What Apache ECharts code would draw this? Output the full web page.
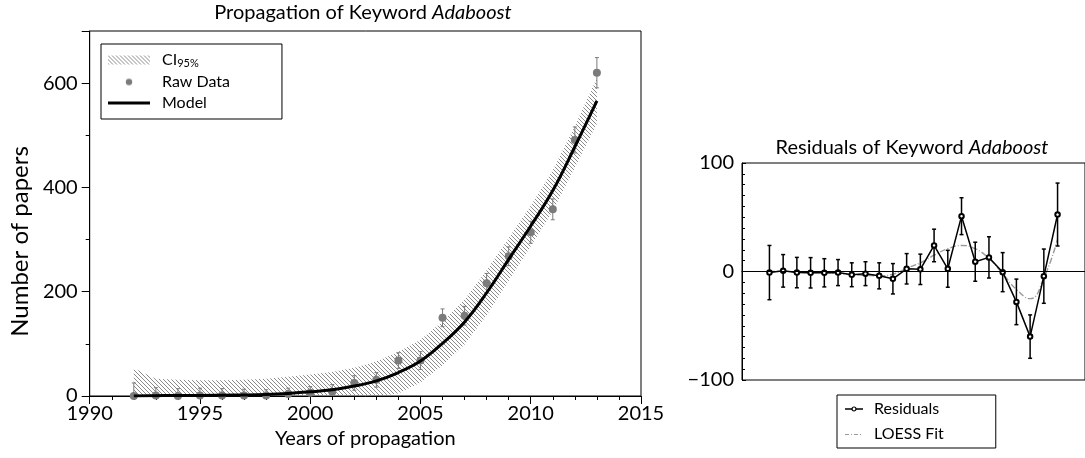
<!DOCTYPE html>
<html>
<head>
<meta charset="utf-8">
<script src="https://cdn.jsdelivr.net/npm/echarts@6/dist/echarts.min.js"></script>
<style>
  html, body { margin: 0; padding: 0; background: #fff; }
  #main { width: 1085px; height: 458px; }
</style>
</head>
<body>
<div id="main"></div>
<script>
//----------------------Data----------------------
let years = [1992, 1993, 1994, 1995, 1996, 1997, 1998, 1999, 2000, 2001, 2002,
             2003, 2004, 2005, 2006, 2007, 2008, 2009, 2010, 2011, 2012, 2013];
let raw_data = [0, 1, 0, 1, 1, 1, 1, 4, 6, 8, 25, 31, 68, 68, 150, 154, 216, 268, 314, 358, 491, 620];
let raw_err = [25, 15, 14, 14, 13, 12, 11, 11, 12, 14, 14, 14, 15, 17, 17, 18, 19, 18, 21, 20, 25, 29];
let model_fit = [0, 0.5, 1, 1, 1.5, 2, 3, 5, 8, 12, 19, 29, 45, 67, 101, 142, 198, 262, 326, 394, 478, 566];
let ci_lower = [0, 0, 0, 0, 0, 0, 0, 0, 0, 0, 0, 0, 5, 26, 59, 99, 155, 221, 287, 355, 438, 522];
let ci_upper = [53, 33, 31, 30, 30, 31, 33, 37, 41, 46, 54, 66, 85, 108, 143, 185, 241, 303, 365, 433, 518, 610];
let residuals = [-1, 0.6, -1, -1.2, -1.2, -1, -3, -2, -4, -6.7, 2.5, 2, 24, 2.5, 51, 9, 13, -0.6, -28, -60, -4.3, 52.5];
let loess_fit = [0, 0, -0.5, -1, -1, -2, -3, -3.5, -4, -2.5, 3, 8, 15, 21, 24, 21, 12, -2, -16.5, -25, -6, 30];

//--------------------Style--------------------
let font_family = "Lato, 'Open Sans', sans-serif";
let gray_raw = "#7b7b7b";

function hatch_pattern() {
    let c = document.createElement("canvas");
    c.width = 4;
    c.height = 4;
    let g = c.getContext("2d");
    g.strokeStyle = "#8a8a8a";
    g.lineWidth = 1;
    g.beginPath();
    g.moveTo(-1, -1); g.lineTo(5, 5);
    g.moveTo(-1, 3); g.lineTo(1, 5);
    g.moveTo(3, -1); g.lineTo(5, 1);
    g.stroke();
    return {image: c, repeat: "repeat"};
}
let hatch = hatch_pattern();

// small canvases used as legend icons
function icon_image(w, h, draw) {
    let c = document.createElement("canvas");
    c.width = w;
    c.height = h;
    draw(c.getContext("2d"));
    return "image://" + c.toDataURL();
}
let icon_raw = icon_image(42, 9, function (g) {
    g.fillStyle = gray_raw;
    g.beginPath(); g.arc(21, 4.5, 3.2, 0, Math.PI * 2); g.fill();
});
let icon_model = icon_image(42, 9, function (g) {
    g.fillStyle = "#000";
    g.fillRect(0, 3, 42, 3);
});
let icon_res = icon_image(18, 8, function (g) {
    g.strokeStyle = "#000"; g.lineWidth = 1.5;
    g.beginPath(); g.moveTo(0, 4); g.lineTo(18, 4); g.stroke();
    g.fillStyle = "#fff"; g.lineWidth = 1.2;
    g.beginPath(); g.arc(9, 4, 2, 0, Math.PI * 2); g.fill(); g.stroke();
});
let icon_loess = icon_image(18, 8, function (g) {
    g.strokeStyle = "#9a9a9a"; g.lineWidth = 1;
    g.setLineDash([4, 2, 1, 2]);
    g.beginPath(); g.moveTo(0, 4.5); g.lineTo(18, 4.5); g.stroke();
});

function err_bar(color, width, cap) {
    return function (params, api) {
        let x = api.value(0);
        let lo = api.coord([x, api.value(1)]);
        let hi = api.coord([x, api.value(2)]);
        let st = {stroke: color, lineWidth: width};
        return {
            type: "group",
            children: [
                {type: "line", shape: {x1: lo[0], y1: lo[1], x2: hi[0], y2: hi[1]}, style: st},
                {type: "line", shape: {x1: hi[0] - cap, y1: hi[1], x2: hi[0] + cap, y2: hi[1]}, style: st},
                {type: "line", shape: {x1: lo[0] - cap, y1: lo[1], x2: lo[0] + cap, y2: lo[1]}, style: st}
            ]
        };
    };
}

// whole band drawn once, as one polygon through the axis scales
function band_item(params, api) {
    if (params.dataIndexInside !== 0) return null;
    let n = params.dataInsideLength;
    let top = [], bottom = [];
    for (let i = 0; i < n; i++) {
        let x = api.value(0, i);
        top.push(api.coord([x, api.value(2, i)]));
        bottom.unshift(api.coord([x, api.value(1, i)]));
    }
    return {
        type: "polygon",
        shape: {points: top.concat(bottom)},
        style: {fill: hatch}
    };
}

//--------------------Build data--------------------
let pair = (arr) => years.map((y, i) => [y, arr[i]]);
let ci_data = years.map((y, i) => [y, ci_lower[i], ci_upper[i]]);
let raw_err_data = years.map((y, i) => [y, raw_data[i] - raw_err[i], raw_data[i] + raw_err[i]]);
let res_err_data = years.map((y, i) => [y, residuals[i] - raw_err[i], residuals[i] + raw_err[i]]);

let chart = echarts.init(document.getElementById("main"), null, {renderer: "canvas"});

let axis_text = {fontFamily: font_family, fontSize: 20, color: "#000"};

let option = {
    backgroundColor: "#fff",
    animation: false,
    textStyle: {fontFamily: font_family},
    graphic: [
        {
            type: "text", x: 363, y: 13,
            style: {
                text: "Propagation of Keyword {i|Adaboost}",
                align: "center", verticalAlign: "middle",
                fontFamily: font_family, fontSize: 20, fill: "#000",
                rich: {i: {fontStyle: "italic", fontFamily: font_family, fontSize: 20}}
            }
        },
        {
            type: "text", x: 912, y: 148,
            style: {
                text: "Residuals of Keyword {i|Adaboost}",
                align: "center", verticalAlign: "middle",
                fontFamily: font_family, fontSize: 20, fill: "#000",
                rich: {i: {fontStyle: "italic", fontFamily: font_family, fontSize: 20}}
            }
        }
    ],
    grid: [
        {left: 86, top: 31, width: 555, height: 365, show: true, borderColor: "#000", borderWidth: 1, backgroundColor: "transparent"},
        {left: 742, top: 163, width: 346, height: 217, show: true, borderColor: "#000", borderWidth: 1, backgroundColor: "transparent"}
    ],
    xAxis: [
        {
            type: "value", gridIndex: 0, min: 1990, max: 2015, interval: 5,
            name: "Years of propagation", nameLocation: "middle", nameGap: 33,
            nameTextStyle: axis_text,
            axisLine: {lineStyle: {color: "#000", width: 1}},
            axisTick: {show: true, length: 8, lineStyle: {color: "#000"}},
            minorTick: {show: true, splitNumber: 5, length: 4, lineStyle: {color: "#000"}},
            axisLabel: Object.assign({margin: 8, formatter: function (v) { return String(v); }}, axis_text),
            splitLine: {show: false}
        },
        {
            type: "value", gridIndex: 1, min: 1990, max: 2015,
            axisLine: {lineStyle: {color: "#000", width: 1}},
            axisTick: {show: false},
            axisLabel: {show: false},
            splitLine: {show: false}
        }
    ],
    yAxis: [
        {
            type: "value", gridIndex: 0, min: 0, max: 700, interval: 200,
            name: "Number of papers", nameLocation: "middle", nameGap: 51, nameRotate: 90,
            nameTextStyle: Object.assign({}, axis_text, {fontSize: 24, padding: [0, 56, 0, 0]}),
            axisLine: {show: true, lineStyle: {color: "#000", width: 1}},
            axisTick: {show: true, length: 8, lineStyle: {color: "#000"}},
            minorTick: {show: true, splitNumber: 2, length: 4, lineStyle: {color: "#000"}},
            axisLabel: Object.assign({margin: 12, showMaxLabel: false}, axis_text),
            splitLine: {show: false}
        },
        {
            type: "value", gridIndex: 1, min: -100, max: 100, interval: 100,
            axisLine: {show: true, lineStyle: {color: "#000", width: 1}},
            axisTick: {show: true, inside: true, length: 4, lineStyle: {color: "#000"}},
            minorTick: {show: true, splitNumber: 10, length: 3, lineStyle: {color: "#000"}},
            axisLabel: Object.assign({
                margin: 8,
                formatter: function (v) { return String(v).replace("-", "\u2212"); }
            }, axis_text),
            splitLine: {show: false}
        }
    ],
    legend: [
        {
            orient: "vertical", left: 101, top: 44,
            padding: [8, 52, 8, 7],
            itemGap: 5, itemWidth: 42, itemHeight: 9,
            borderColor: "#000", borderWidth: 1,
            textStyle: {
                fontFamily: font_family, fontSize: 16, color: "#000", padding: [0, 0, 0, 7],
                rich: {
                    a: {fontFamily: font_family, fontSize: 16, color: "#000"},
                    b: {fontFamily: font_family, fontSize: 11, color: "#000", padding: [7, 0, 0, 0]}
                }
            },
            formatter: function (n) { return n === "CI95%" ? "{a|CI}{b|95%}" : n; },
            data: [
                {name: "CI95%", icon: "rect", itemStyle: {color: hatch, borderWidth: 0}},
                {name: "Raw Data", icon: icon_raw},
                {name: "Model", icon: icon_model}
            ]
        },
        {
            orient: "vertical", left: 837, top: 395,
            padding: [6, 52, 6, 8],
            itemGap: 9, itemWidth: 18, itemHeight: 8,
            borderColor: "#000", borderWidth: 1,
            textStyle: {fontFamily: font_family, fontSize: 16, color: "#000", padding: [0, 0, 0, 6]},
            data: [
                {name: "Residuals", icon: icon_res},
                {name: "LOESS Fit", icon: icon_loess}
            ]
        }
    ],
    series: [
        //------------ left: confidence band ------------
        {
            name: "CI95%", type: "custom", xAxisIndex: 0, yAxisIndex: 0,
            data: ci_data, encode: {x: 0, y: [1, 2]}, clip: true,
            renderItem: band_item, itemStyle: {color: "#8a8a8a"}, z: 1
        },
        //------------ left: raw data + error bars ------------
        {
            name: "raw_err", type: "custom", xAxisIndex: 0, yAxisIndex: 0,
            data: raw_err_data, encode: {x: 0, y: [1, 2]}, clip: true,
            renderItem: err_bar(gray_raw, 1, 2), z: 8
        },
        {
            name: "Raw Data", type: "scatter", xAxisIndex: 0, yAxisIndex: 0,
            data: pair(raw_data), symbolSize: 8,
            itemStyle: {color: gray_raw, opacity: 1}, z: 9
        },
        //------------ left: model ------------
        {
            name: "Model", type: "line", xAxisIndex: 0, yAxisIndex: 0,
            data: pair(model_fit), symbol: "none", smooth: 0.4,
            lineStyle: {color: "#000", width: 3}, itemStyle: {color: "#000"}, z: 10
        },
        //------------ right: residuals ------------
        {
            name: "res_err", type: "custom", xAxisIndex: 1, yAxisIndex: 1,
            data: res_err_data, encode: {x: 0, y: [1, 2]}, clip: true,
            renderItem: err_bar("#000", 1.5, 2), z: 3
        },
        {
            name: "LOESS Fit", type: "line", xAxisIndex: 1, yAxisIndex: 1,
            data: pair(loess_fit), symbol: "none", smooth: 0.5,
            lineStyle: {color: "#999", width: 1.4, type: [6, 2, 1, 2]},
            itemStyle: {color: "#999"}, z: 2
        },
        {
            name: "Residuals", type: "line", xAxisIndex: 1, yAxisIndex: 1,
            data: pair(residuals), symbol: "emptyCircle", symbolSize: 4.5,
            lineStyle: {color: "#000", width: 1.5},
            itemStyle: {color: "#000", borderWidth: 1.2}, z: 4,
            markLine: {
                silent: true, symbol: "none", label: {show: false},
                lineStyle: {color: "#000", width: 1, type: "solid"},
                data: [{yAxis: 0}]
            }
        }
    ]
};

chart.setOption(option);
</script>
</body>
</html>
